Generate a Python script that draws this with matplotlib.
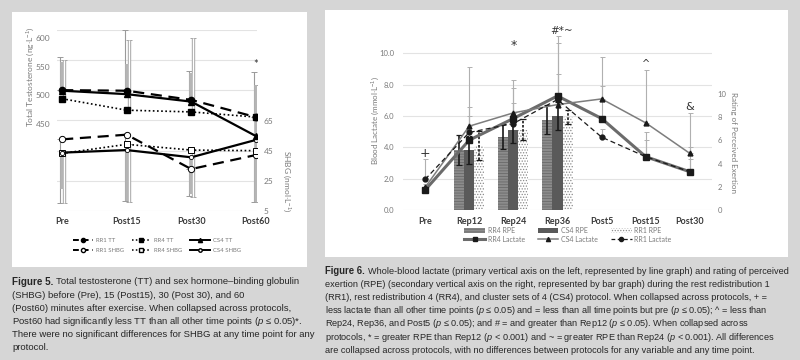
import matplotlib
matplotlib.use('Agg')
import matplotlib.pyplot as plt
from matplotlib.patches import Rectangle, Patch
from matplotlib.lines import Line2D
import numpy as np

plt.rcParams['font.family'] = ['Lato', 'DejaVu Sans']
plt.rcParams['mathtext.fontset'] = 'custom'
plt.rcParams['mathtext.rm'] = 'Liberation Sans'
plt.rcParams['mathtext.it'] = 'Liberation Sans:italic'
plt.rcParams['mathtext.bf'] = 'Liberation Sans:bold'
plt.rcParams['hatch.linewidth'] = 0.6

# ---------------- Figura 5: testosterona y SHBG ----------------
tiempos5 = ['Pre', 'Post15', 'Post30', 'Post60']
tt_rr1 = [509, 508, 492, 462]
tt_rr4 = [494, 474, 471, 462]
tt_cs4 = [508, 502, 489, 429]
tt_err_rr1 = [57, 106, 51, 79]
tt_err_rr4 = [68, 123, 129, 56]
tt_err_cs4 = [50, 52, 50, 89]
shbg_rr1 = [52.5, 55.6, 32.8, 42.1]
shbg_rr4 = [43.2, 49.2, 45.4, 45.0]
shbg_cs4 = [43.7, 45.4, 40.6, 52.1]
shbg_err_rr1 = [42, 44, 18, 31]
shbg_err_rr4 = [33, 38, 31, 34]
shbg_err_cs4 = [24, 34, 24, 41]

# ---------------- Figura 6: lactato y RPE ----------------
tiempos6 = ['Pre', 'Rep12', 'Rep24', 'Rep36', 'Post5', 'Post15', 'Post30']
lac_rr4 = [1.27, 4.46, 5.84, 7.28, 5.84, 3.40, 2.44]
lac_cs4 = [1.44, 5.35, 6.20, 6.73, 7.09, 5.56, 3.61]
lac_rr1 = [1.95, 4.95, 5.52, 7.05, 4.65, 3.40, 2.44]
lac_err_rr4 = [0.2, 2.1, 1.96, 3.8, 2.1, 1.55, 1.6]
lac_err_cs4 = [0.2, 3.75, 2.1, 3.9, 2.7, 3.35, 2.6]
lac_err_rr1 = [1.3, 1.05, 1.28, 1.65, 0.5, 1.1, 0.8]
series_rep = ['Rep12', 'Rep24', 'Rep36']
rpe_rr4 = [5.17, 6.32, 7.76]
rpe_cs4 = [5.17, 6.90, 8.13]
rpe_rr1 = [5.54, 6.90, 8.04]
rpe_err_rr4 = [1.25, 1.08, 1.25]
rpe_err_cs4 = [1.2, 1.1, 1.2]
rpe_err_rr1 = [1.25, 0.9, 0.6]

fig = plt.figure(figsize=(8, 3.6), dpi=100)
fig.patch.set_facecolor('#d6d6d6')

def rect_px(x0, y0, x1, y1):
    # rectangulo en pixeles (origen arriba-izquierda) -> coords de figura
    return [x0/800, 1 - y1/360, (x1 - x0)/800, (y1 - y0)/360]

for r in [rect_px(12, 12, 307, 267), rect_px(325, 10, 788, 257)]:
    fig.add_artist(Rectangle((r[0], r[1]), r[2], r[3], transform=fig.transFigure,
                             facecolor='white', edgecolor='none', zorder=-5))

gris_txt = '#7a7a7a'
oscuro = '#3a3a3a'

# =============== panel izquierdo ===============
ax_s = fig.add_axes(rect_px(57, 30, 257, 211))   # SHBG (eje derecho) + rejilla
ax_t = ax_s.twinx()                                # TT (eje izquierdo)
ax_s.yaxis.tick_right()
ax_t.yaxis.tick_left()
x5 = np.arange(len(tiempos5))

ax_s.set_ylim(5, 125)
ax_t.set_ylim(298, 614)
ax_s.set_xlim(-0.08, 3.02)
ax_s.set_yticks([5, 25, 45, 65, 85, 105, 125])
ax_s.set_yticklabels(['5', '25', '45', '65', '', '', ''])
ax_s.grid(axis='y', color='#e3e3e3', lw=0.8)
ax_s.set_axisbelow(True)
ax_t.set_yticks([450, 500, 550, 600])
for a in (ax_s, ax_t):
    for sp in a.spines.values():
        sp.set_visible(False)
    a.tick_params(length=0, labelsize=6, labelcolor=gris_txt)
    a.patch.set_visible(False)
ax_s.tick_params(axis='y', pad=5)
ax_t.tick_params(axis='y', pad=5)
ax_s.set_xticks(x5)
ax_s.set_xticklabels(tiempos5, fontsize=6.5, color=oscuro, fontweight='bold')
ax_s.tick_params(axis='x', pad=4)

def barra(ax, x, y, err, lado, estilo):
    lo = [0]*len(y) if lado == 'up' else err
    hi = err if lado == 'up' else [0]*len(y)
    if estilo == 'grueso':
        ax.errorbar(x, y, yerr=[lo, hi], fmt='none', ecolor='#b5b5b5', elinewidth=2.6, capsize=0, zorder=1)
    elif estilo == 'hueco':
        ax.errorbar(x, y, yerr=[lo, hi], fmt='none', ecolor='#a5a5a5', elinewidth=2.4, capsize=2, capthick=0.7, zorder=1)
        ax.errorbar(x, y, yerr=[lo, hi], fmt='none', ecolor='white', elinewidth=1.0, capsize=0, zorder=1.1)
    else:
        ax.errorbar(x, y, yerr=[lo, hi], fmt='none', ecolor='#9a9a9a', elinewidth=0.8, capsize=2, capthick=0.7, zorder=1)

barra(ax_t, x5 - 0.03, tt_rr1, tt_err_rr1, 'up', 'fino')
barra(ax_t, x5 + 0.03, tt_rr4, tt_err_rr4, 'up', 'hueco')
barra(ax_t, x5, tt_cs4, tt_err_cs4, 'up', 'grueso')
barra(ax_s, x5 - 0.03, shbg_rr1, shbg_err_rr1, 'down', 'fino')
barra(ax_s, x5 + 0.03, shbg_rr4, shbg_err_rr4, 'down', 'hueco')
barra(ax_s, x5, shbg_cs4, shbg_err_cs4, 'down', 'grueso')

ax_s.plot(x5, shbg_rr1, color='black', lw=1.6, ls=(0, (5, 3)), marker='o', ms=4.5, mfc='white', mec='black', mew=0.7, zorder=3)
ax_s.plot(x5, shbg_rr4, color='black', lw=1.2, ls=(0, (1, 1.5)), marker='s', ms=4.5, mfc='white', mec='black', mew=0.7, zorder=3)
ax_s.plot(x5, shbg_cs4, color='black', lw=1.6, ls='-', marker='o', ms=3, mfc='white', mec='black', mew=0.6, zorder=3)
ax_t.plot(x5, tt_rr1, color='black', lw=1.6, ls=(0, (5, 3)), marker='o', ms=4.5, zorder=3)
ax_t.plot(x5, tt_rr4, color='black', lw=1.2, ls=(0, (1, 1.5)), marker='s', ms=4.5, zorder=3)
ax_t.plot(x5, tt_cs4, color='black', lw=1.6, ls='-', marker='^', ms=4, zorder=3)
ax_t.text(3, 553, '*', ha='center', va='center', fontsize=8, color='#333333')

fig.text(30/800, 1 - 77/360, r'Total Testosterone (ng$\cdot$L$^{-1}$)', rotation=90,
         ha='center', va='center', fontsize=6, color=gris_txt)
fig.text(287/800, 1 - 181/360, r'SHBG (nmol$\cdot$L$^{-1}$)', rotation=270,
         ha='center', va='center', fontsize=6, color=gris_txt)

h5 = [Line2D([], [], color='black', lw=1.4, ls=(0, (3, 2)), marker='o', ms=3),
      Line2D([], [], color='black', lw=1.4, ls=(0, (3, 2)), marker='o', ms=3, mfc='white'),
      Line2D([], [], color='black', lw=1.1, ls=(0, (1, 1.5)), marker='s', ms=3),
      Line2D([], [], color='black', lw=1.1, ls=(0, (1, 1.5)), marker='s', ms=3, mfc='white'),
      Line2D([], [], color='black', lw=1.4, marker='^', ms=3),
      Line2D([], [], color='black', lw=1.4, marker='o', ms=2.5, mfc='white')]
l5 = ['RR1 TT', 'RR1 SHBG', 'RR4 TT', 'RR4 SHBG', 'CS4 TT', 'CS4 SHBG']
fig.legend(h5, l5, ncol=3, loc='center', bbox_to_anchor=(157/800, 1 - 245.5/360),
           frameon=False, fontsize=4.3, handlelength=3.3, columnspacing=1.3,
           handletextpad=0.5, labelspacing=0.7, labelcolor=gris_txt)

# =============== panel derecho ===============
ax_l = fig.add_axes(rect_px(403, 22, 712, 210))   # lactato: rejilla y eje izq.
ax_r = ax_l.twinx()                                # RPE (barras)
ax_l2 = ax_l.twinx()                               # lineas de lactato encima
x6 = np.arange(len(tiempos6))
ax_l.set_xlim(-0.5, 6.5)
ax_l.set_ylim(0, 12)
ax_l2.set_ylim(0, 12)
ax_r.set_ylim(0, 16.2)
ax_l.set_yticks([0, 2, 4, 6, 8, 10])
ax_l.set_yticklabels(['0.0', '2.0', '4.0', '6.0', '8.0', '10.0'])
ax_r.set_yticks([0, 2, 4, 6, 8, 10])
ax_l2.set_yticks([])
ax_l.grid(axis='y', color='#e3e3e3', lw=0.8)
ax_l.set_axisbelow(True)
for a in (ax_l, ax_r, ax_l2):
    for sp in a.spines.values():
        sp.set_visible(False)
    a.tick_params(length=0, labelsize=5.5, labelcolor=gris_txt)
    a.patch.set_visible(False)
ax_l.tick_params(axis='y', pad=6.5)
ax_r.tick_params(axis='y', pad=4)
ax_l.set_xticks(x6)
ax_l.set_xticklabels(tiempos6, fontsize=6.5, color=oscuro, fontweight='bold')
ax_l.tick_params(axis='x', pad=5)

xr = np.array([tiempos6.index(s) for s in series_rep])
wb = 0.227
ax_r.bar(xr - wb, rpe_rr4, wb, color='#8c8c8c', edgecolor='#6a6a6a', hatch='------', lw=0, zorder=2)
ax_r.bar(xr, rpe_cs4, wb, color='#5a5a5a', edgecolor='#4a4a4a', lw=0, zorder=2)
ax_r.bar(xr + wb, rpe_rr1, wb, color='white', edgecolor='#8a8a8a', hatch='......', lw=0, zorder=2)
ax_r.errorbar(xr - wb, rpe_rr4, yerr=rpe_err_rr4, fmt='none', ecolor='#1a1a1a', elinewidth=1.2, capsize=2, capthick=0.9, zorder=3)
ax_r.errorbar(xr, rpe_cs4, yerr=rpe_err_cs4, fmt='none', ecolor='#1a1a1a', elinewidth=1.2, capsize=2, capthick=0.9, zorder=3)
eb = ax_r.errorbar(xr + wb, rpe_rr1, yerr=rpe_err_rr1, fmt='none', ecolor='#1a1a1a', elinewidth=1.2, capsize=2, capthick=0.9, zorder=3)
eb[2][0].set_linestyle((0, (1.5, 1)))

for y, e in [(lac_rr4, lac_err_rr4), (lac_cs4, lac_err_cs4), (lac_rr1, lac_err_rr1)]:
    ax_l2.errorbar(x6, y, yerr=[[0]*len(y), e], fmt='none', ecolor='#b0b0b0', elinewidth=0.8, capsize=1.8, capthick=0.7, zorder=1)
ax_l2.plot(x6, lac_rr4, color='#6b6b6b', lw=2.2, marker='s', ms=4, mfc='#1a1a1a', mec='#1a1a1a', zorder=3)
ax_l2.plot(x6, lac_cs4, color='#7d7d7d', lw=1.1, marker='^', ms=3.5, mfc='#1a1a1a', mec='#1a1a1a', zorder=3)
ax_l2.plot(x6, lac_rr1, color='#1a1a1a', lw=0.9, ls=(0, (4, 2.5)), marker='o', ms=3.5, zorder=3)

marcas = [(0, 3.6, '+', 9), (2, 10.5, '*', 9), (3.1, 11.4, '#*~', 7.5), (5, 9.3, '^', 7), (6, 6.6, '&', 8)]
for xm, ym, s, fs in marcas:
    ax_l2.text(xm, ym, s, ha='center', va='center', fontsize=fs, color='#333333',
               family=['DejaVu Sans'])

fig.text(375/800, 1 - 120/360, r'Blood Lactate (mmol$\cdot$L$^{-1}$)', rotation=90,
         ha='center', va='center', fontsize=5.8, color=gris_txt)
fig.text(734/800, 1 - 143/360, 'Rating of Perceived Exertion', rotation=270,
         ha='center', va='center', fontsize=5.8, color=gris_txt)

h6 = [Patch(facecolor='#8c8c8c', edgecolor='#6a6a6a', hatch='------', lw=0),
      Line2D([], [], color='#6b6b6b', lw=2.2, marker='s', ms=3.5, mfc='#1a1a1a', mec='#1a1a1a'),
      Patch(facecolor='#5a5a5a', edgecolor='#4a4a4a', lw=0),
      Line2D([], [], color='#7d7d7d', lw=1.1, marker='^', ms=3, mfc='#1a1a1a', mec='#1a1a1a'),
      Patch(facecolor='white', edgecolor='#8a8a8a', hatch='......', lw=0),
      Line2D([], [], color='#1a1a1a', lw=0.9, ls=(0, (3, 2)), marker='o', ms=3)]
l6 = ['RR4 RPE', 'RR4 Lactate', 'CS4 RPE', 'CS4 Lactate', 'RR1 RPE', 'RR1 Lactate']
fig.legend(h6, l6, ncol=3, loc='center', bbox_to_anchor=(568/800, 1 - 235/360),
           frameon=False, fontsize=5, handlelength=3, handleheight=0.7, columnspacing=1.8,
           handletextpad=0.4, labelspacing=0.25, labelcolor=gris_txt)

# =============== pies de figura ===============
fuente = 'Liberation Sans'
col_pie = '#262626'

def pie(x0, y0, titulo, lineas, tam, paso=13.2):
    r = fig.canvas.get_renderer()
    for i, txt in enumerate(lineas):
        y = 1 - (y0 + i*paso)/360
        if i == 0:
            t = fig.text(x0/800, y, titulo, fontsize=tam + 0.3, fontweight='bold', family=fuente,
                         color=col_pie, va='center')
            w = t.get_window_extent(r).width
            fig.text((x0 + w + 3)/800, y, txt, fontsize=tam, family=fuente, color=col_pie, va='center')
        else:
            fig.text(x0/800, y, txt, fontsize=tam, family=fuente, color=col_pie, va='center')

pie(12, 282, 'Figure 5.', [
    'Total testosterone (TT) and sex hormone–binding globulin',
    '(SHBG) before (Pre), 15 (Post15), 30 (Post 30), and 60',
    '(Post60) minutes after exercise. When collapsed across protocols,',
    r'Post60 had significantly less TT than all other time points ($p$ ≤ 0.05)*.',
    'There were no significant differences for SHBG at any time point for any',
    'protocol.'], tam=6.8)

pie(325, 271, 'Figure 6.', [
    'Whole-blood lactate (primary vertical axis on the left, represented by line graph) and rating of perceived',
    'exertion (RPE) (secondary vertical axis on the right, represented by bar graph) during the rest redistribution 1',
    '(RR1), rest redistribution 4 (RR4), and cluster sets of 4 (CS4) protocol. When collapsed across protocols, + =',
    r'less lactate than all other time points ($p$ ≤ 0.05) and = less than all time points but pre ($p$ ≤ 0.05); ^ = less than',
    r'Rep24, Rep36, and Post5 ($p$ ≤ 0.05); and # = and greater than Rep12 ($p$ ≤ 0.05). When collapsed across',
    r'protocols, * = greater RPE than Rep12 ($p$ < 0.001) and ~ = greater RPE than Rep24 ($p$ < 0.001). All differences',
    'are collapsed across protocols, with no differences between protocols for any variable and any time point.'], tam=6.55)

fig.savefig('out.png', dpi=100, facecolor=fig.get_facecolor())
